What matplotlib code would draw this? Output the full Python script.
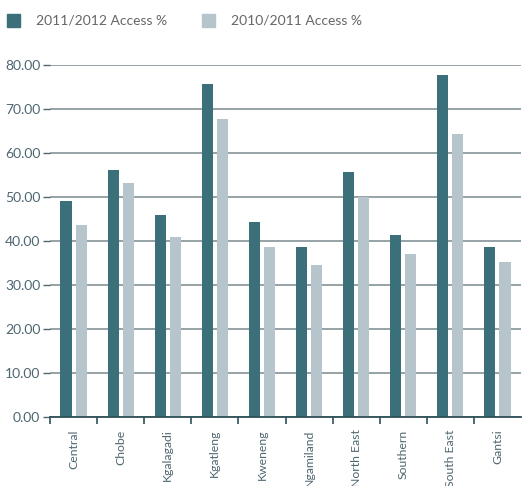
import numpy as np
import matplotlib
matplotlib.use("Agg")
import matplotlib.pyplot as plt
from matplotlib.patches import Rectangle

# Data
districts = ["Central", "Chobe", "Kgalagadi", "Kgatleng", "Kweneng",
             "Ngamiland", "North East", "Southern", "South East", "Gantsi"]
access_2011_2012 = [49.1, 56.1, 45.9, 75.7, 44.3, 38.7, 55.7, 41.4, 77.7, 38.7]
access_2010_2011 = [43.6, 53.2, 40.9, 67.7, 38.7, 34.5, 50.0, 37.0, 64.3, 35.2]
series_names = ["2011/2012 Access %", "2010/2011 Access %"]
yticks = [0, 10, 20, 30, 40, 50, 60, 70, 80]

dark = "#3b6f7a"
light = "#b6c4cc"
grid_col = "#8e9b9e"
label_col = "#4e6670"

plt.rcParams['font.family'] = ['Lato', 'DejaVu Sans']

fig = plt.figure(figsize=(5.22, 4.86), dpi=100)
ax = fig.add_axes([50/522, 1 - 417/486, 471/522, 352/486])

x = np.arange(len(districts))
w = 0.235
ax.bar(x - 0.16, access_2011_2012, width=w, color=dark, zorder=3)
ax.bar(x + 0.16, access_2010_2011, width=w, color=light, zorder=3)

ax.set_xlim(-0.5, len(districts) - 0.5)
ax.set_ylim(0, 80)
ax.set_yticks(yticks)
ax.set_yticklabels(["%.2f" % v for v in yticks], fontsize=10, color=label_col)
ax.yaxis.grid(True, color=grid_col, linewidth=1.3, zorder=0)
ax.tick_params(axis='y', length=5, width=1, color=label_col, pad=2)

# category labels at centers, ticks at boundaries
ax.set_xticks(x)
ax.set_xticklabels(districts, rotation=90, fontsize=8.8, color=label_col, va='top')
ax.tick_params(axis='x', which='major', length=0, pad=9)
ax.set_xticks(np.arange(len(districts)) - 0.5, minor=True)
ax.tick_params(axis='x', which='minor', length=5, width=1.2, color="#2f4f58")

for s in ["top", "right", "left"]:
    ax.spines[s].set_visible(False)
ax.spines["bottom"].set_color("#2f4f58")
ax.spines["bottom"].set_linewidth(1.3)
ax.spines["bottom"].set_zorder(4)

# legend along the top
fig.patches.append(Rectangle((7/522, 1 - 27/486), 13/522, 13/486,
                             transform=fig.transFigure, color=dark))
fig.text(36/522, 1 - 20.5/486, series_names[0], fontsize=10, color="#666666", va='center')
fig.patches.append(Rectangle((202/522, 1 - 27/486), 13/522, 13/486,
                             transform=fig.transFigure, color=light))
fig.text(231/522, 1 - 20.5/486, series_names[1], fontsize=10, color="#666666", va='center')

fig.savefig("out.png", dpi=100)
